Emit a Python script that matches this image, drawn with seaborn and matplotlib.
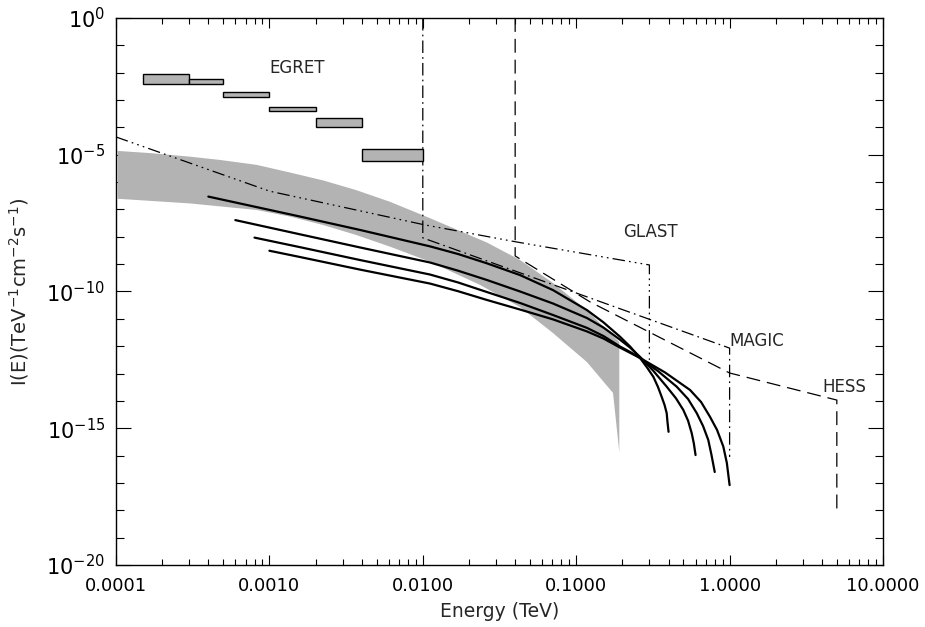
"""
Gamma-ray spectra vs. detector sensitivities (EGRET / GLAST / MAGIC / HESS)
"""

import numpy as np
import pandas as pd
import matplotlib
matplotlib.use("Agg")
import matplotlib.pyplot as plt
import matplotlib.ticker as mticker
import seaborn as sns

sns.set_theme(style="ticks")
plt.rcParams["font.family"] = ["DejaVu Sans"]
plt.rcParams["lines.scale_dashes"] = False

# 所有数值: log10(E/TeV), log10(I)
# ---- EGRET 数据框 ----
egret_lo = [1.5e-4, 3e-4, 5e-4, 1e-3, 2e-3, 4e-3]
egret_hi = [3e-4, 5e-4, 1e-3, 2e-3, 4e-3, 1e-2]
egret_top = [-2.06, -2.24, -2.72, -3.24, -3.67, -4.79]
egret_bot = [-2.42, -2.41, -2.89, -3.39, -3.97, -5.23]

# ---- 灰色带 (上沿 / 下沿) ----
band_top_le = [-3.989, -3.778, -3.518, -3.322, -3.083, -2.866, -2.649, -2.436, -2.214,
               -1.953, -1.582, -1.366, -1.149, -0.932, -0.719]
band_top_li = [-4.86, -4.94, -5.07, -5.19, -5.37, -5.65, -5.94, -6.29, -6.72,
               -7.32, -8.21, -8.85, -9.70, -10.68, -11.85]
band_bot_le = [-3.989, -3.518, -3.083, -2.866, -2.649, -2.436, -2.214, -1.953,
               -1.627, -1.366, -1.151, -0.930, -0.760, -0.719]
band_bot_li = [-6.61, -6.78, -7.02, -7.26, -7.57, -7.93, -8.36, -8.91,
               -9.76, -10.57, -11.52, -12.58, -13.71, -15.87]

# ---- 模型谱 (实线) ----
spec_a_le = [-3.398, -2.800, -2.409, -1.953, -1.770, -1.582, -1.366, -1.151, -0.930, -0.822,
             -0.715, -0.649, -0.584, -0.538, -0.497, -0.467, -0.443, -0.424, -0.410, -0.405,
             -0.398]
spec_a_li = [-6.53, -7.26, -7.75, -8.35, -8.63, -8.97, -9.40, -9.95, -10.68, -11.13,
             -11.65, -12.01, -12.43, -12.78, -13.12, -13.49, -13.85, -14.15, -14.45, -14.77,
             -15.13]
spec_b_le = [-3.222, -2.800, -2.409, -1.953, -1.770, -1.582, -1.366, -1.151, -0.930, -0.822,
             -0.715, -0.649, -0.584, -0.499, -0.410, -0.349, -0.302, -0.271, -0.247, -0.233,
             -0.222]
spec_b_li = [-7.39, -7.91, -8.39, -8.94, -9.24, -9.58, -10.00, -10.44, -10.97, -11.32,
             -11.76, -12.05, -12.39, -12.89, -13.48, -13.91, -14.33, -14.72, -15.18, -15.56,
             -15.98]
spec_c_le = [-3.097, -2.800, -2.409, -1.953, -1.770, -1.582, -1.366, -1.151, -0.930, -0.822,
             -0.715, -0.649, -0.584, -0.467, -0.345, -0.271, -0.214, -0.173, -0.139, -0.118,
             -0.097]
spec_c_li = [-8.03, -8.38, -8.85, -9.38, -9.67, -10.02, -10.42, -10.86, -11.33, -11.63,
             -12.01, -12.21, -12.43, -12.91, -13.48, -13.93, -14.45, -14.92, -15.43, -15.98,
             -16.60]
spec_d_le = [-3.0, -2.800, -2.409, -1.953, -1.770, -1.582, -1.366, -1.151, -0.930, -0.822,
             -0.715, -0.584, -0.421, -0.258, -0.186, -0.128, -0.082, -0.041, -0.018, 0.0]
spec_d_li = [-8.51, -8.74, -9.20, -9.71, -9.99, -10.31, -10.66, -11.02, -11.46, -11.72,
             -12.05, -12.43, -12.96, -13.60, -14.04, -14.58, -15.06, -15.67, -16.27, -17.08]

# ---- 灵敏度曲线 ----
glast_e = [1e-4, 1e-3, 1e-2, 0.04, 0.3, 0.3]
glast_li = [-4.35, -6.33, -7.55, -8.18, -9.03, -12.50]
magic_e = [1e-2, 1e-2, 1.0, 1.0]
magic_li = [0.0, -8.04, -12.07, -16.05]
hess_e = [0.04, 0.04, 0.123, 1.0, 5.0, 5.0]
hess_li = [0.0, -8.70, -10.38, -12.98, -13.97, -17.99]

labels = {"EGRET": (1e-3, -1.83), "GLAST": (0.201, -7.81),
          "MAGIC": (1.0, -11.81), "HESS": (4.05, -13.50)}

fig = plt.figure(figsize=(9.25, 6.27), dpi=100)
ax = fig.add_axes([0.1254, 0.0989, 0.8292, 0.8724])
ax.set_xscale("log")
ax.set_yscale("log")

# 灰色带
poly_le = np.array(band_top_le + band_bot_le[::-1])
poly_li = np.array(band_top_li + band_bot_li[::-1])
ax.fill(10.0 ** poly_le, 10.0 ** poly_li, color="#b3b3b3", lw=0, zorder=1)

# EGRET
for lo, hi, t, b in zip(egret_lo, egret_hi, egret_top, egret_bot):
    ax.bar(lo, 10 ** t - 10 ** b, width=hi - lo, bottom=10 ** b, align="edge",
           color="#b3b3b3", edgecolor="black", linewidth=1.0, zorder=3)

# 灵敏度
ax.plot(glast_e, 10.0 ** np.array(glast_li), color="black", lw=0.9,
        ls=(0, (9, 3, 1.2, 3, 1.2, 3, 1.2, 3)), zorder=2)
ax.plot(magic_e, 10.0 ** np.array(magic_li), color="black", lw=0.9,
        ls=(0, (9, 3, 1.2, 3)), zorder=2)
ax.plot(hess_e, 10.0 ** np.array(hess_li), color="black", lw=0.9,
        ls=(0, (10, 5)), zorder=2)

# 模型谱
frames = []
for name, le, li in [("a", spec_a_le, spec_a_li), ("b", spec_b_le, spec_b_li),
                     ("c", spec_c_le, spec_c_li), ("d", spec_d_le, spec_d_li)]:
    frames.append(pd.DataFrame({"E": 10.0 ** np.array(le), "I": 10.0 ** np.array(li),
                                "model": name}))
spec_df = pd.concat(frames, ignore_index=True)
sns.lineplot(data=spec_df, x="E", y="I", units="model", estimator=None, sort=False,
             color="black", lw=1.6, ax=ax, zorder=4)

for txt, (x, y) in labels.items():
    ax.text(x, 10 ** y, txt, ha="left", va="center", fontsize=12, zorder=5)

ax.set_xlim(1e-4, 10)
ax.set_ylim(1e-20, 1)

ax.xaxis.set_major_locator(mticker.FixedLocator([1e-4, 1e-3, 1e-2, 1e-1, 1, 10]))
ax.xaxis.set_major_formatter(mticker.FuncFormatter(lambda v, p: f"{v:.4f}"))
ax.xaxis.set_minor_locator(mticker.LogLocator(base=10, subs=np.arange(2, 10), numticks=20))
ax.xaxis.set_minor_formatter(mticker.NullFormatter())

y_major = [1e-20, 1e-15, 1e-10, 1e-5, 1e0]
ax.yaxis.set_major_locator(mticker.FixedLocator(y_major))
ax.yaxis.set_major_formatter(mticker.FuncFormatter(
    lambda v, p: r"$10^{%d}$" % round(np.log10(v))))
ax.yaxis.set_minor_locator(mticker.FixedLocator(
    [10.0 ** k for k in range(-19, 0) if k % 5 != 0]))
ax.yaxis.set_minor_formatter(mticker.NullFormatter())

ax.tick_params(which="both", direction="in", top=True, right=True, colors="black", width=0.8)
ax.tick_params(axis="x", which="major", length=7, pad=9, labelsize=13)
ax.tick_params(axis="x", which="minor", length=4)
ax.tick_params(axis="y", which="major", length=11, pad=8, labelsize=15)
ax.tick_params(axis="y", which="minor", length=6)
for sp in ax.spines.values():
    sp.set_color("black")
    sp.set_linewidth(1.0)

ax.set_xlabel("Energy (TeV)", fontsize=13.5, labelpad=5)
ax.set_ylabel(r"I(E)(TeV$^{-1}$cm$^{-2}$s$^{-1}$)", fontsize=14, labelpad=11)
ax.grid(False)

plt.savefig("out.png", dpi=100)
plt.close()
